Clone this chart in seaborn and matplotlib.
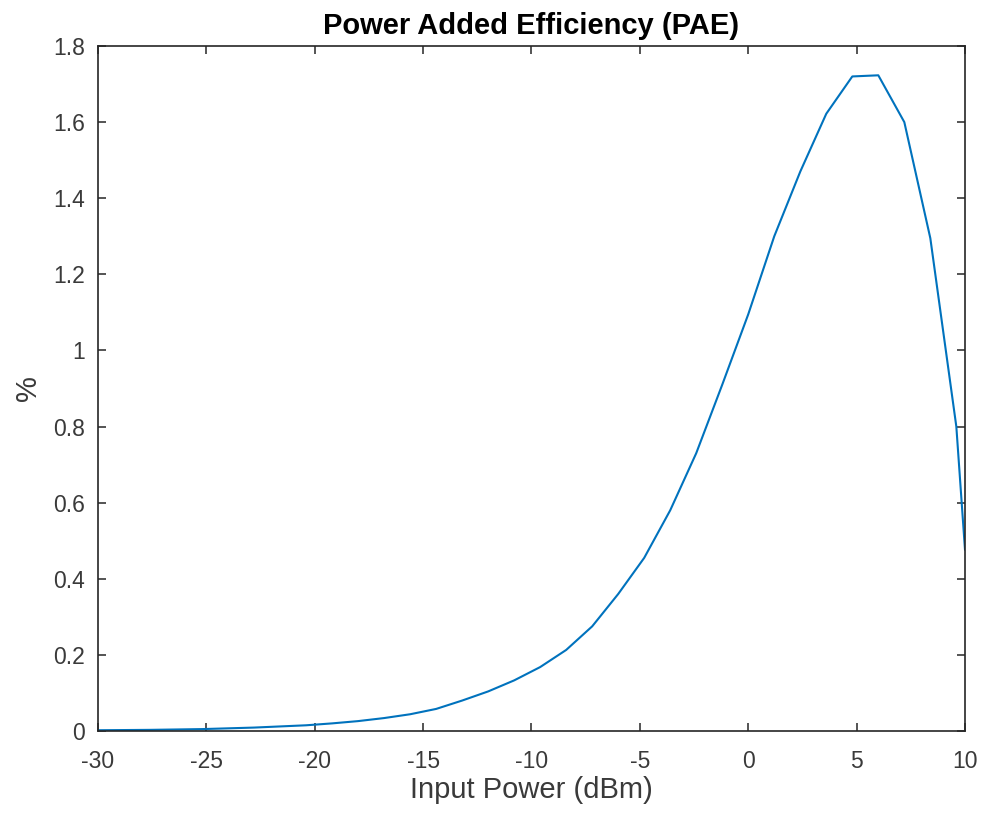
import matplotlib
matplotlib.use("Agg")
import matplotlib.pyplot as plt
import seaborn as sns
import pandas as pd
from matplotlib.ticker import FuncFormatter

# Data
input_power_dbm = [-30.0, -28.8, -27.6, -26.4, -25.2, -24.0, -22.8, -21.6, -20.4, -19.2,
                   -18.0, -16.8, -15.6, -14.4, -13.2, -12.0, -10.8, -9.6, -8.4, -7.2,
                   -6.0, -4.8, -3.6, -2.4, -1.2, 0.0, 1.2, 2.4, 3.6, 4.8,
                   6.0, 7.2, 8.4, 9.6, 10.0]
pae_percent = [0.002, 0.0025, 0.003, 0.004, 0.005, 0.007, 0.009, 0.012, 0.015, 0.020,
               0.026, 0.034, 0.044, 0.058, 0.080, 0.104, 0.133, 0.168, 0.213, 0.275,
               0.360, 0.455, 0.580, 0.730, 0.910, 1.095, 1.300, 1.470, 1.622, 1.720,
               1.723, 1.600, 1.295, 0.800, 0.476]
x_ticks = [-30, -25, -20, -15, -10, -5, 0, 5, 10]
y_ticks = [0, 0.2, 0.4, 0.6, 0.8, 1.0, 1.2, 1.4, 1.6, 1.8]

title_text = "Power Added Efficiency (PAE)"
x_label = "Input Power (dBm)"
y_label = "%"

sns.set_theme(style="white")
plt.rcParams['font.family'] = ['Liberation Sans', 'DejaVu Sans']
plt.rcParams['axes.unicode_minus'] = False

df = pd.DataFrame({"x": input_power_dbm, "y": pae_percent})

fig = plt.figure(figsize=(9.87, 8.22), dpi=100)
ax = fig.add_axes([98/987, 1 - 731/822, (965-98)/987, (731-46)/822])

sns.lineplot(data=df, x="x", y="y", ax=ax, color="#0072BD", linewidth=1.5)

ax.set_xlim(-30, 10)
ax.set_ylim(0, 1.8)
ax.set_xticks(x_ticks)
ax.set_yticks(y_ticks)
ax.yaxis.set_major_formatter(FuncFormatter(lambda v, p: "%g" % round(v, 2)))

axcol = "#262626"
for s in ax.spines.values():
    s.set_visible(True)
    s.set_color(axcol)
    s.set_linewidth(1.2)

ax.tick_params(axis="both", which="major", direction="in", length=6, width=1.1,
               color=axcol, labelcolor="#3a3a3a", labelsize=16.5,
               top=True, right=True, bottom=True, left=True)
ax.tick_params(axis="x", pad=14)
ax.tick_params(axis="y", pad=9.5)

ax.set_xlabel(x_label, fontsize=21, color="#3a3a3a", labelpad=2)
ax.set_ylabel(y_label, fontsize=21, color="#3a3a3a", labelpad=8)
ax.set_title(title_text, fontsize=21, fontweight="bold", color="black", pad=8.5)
ax.grid(False)

fig.savefig("out.png", dpi=100, facecolor="white")
